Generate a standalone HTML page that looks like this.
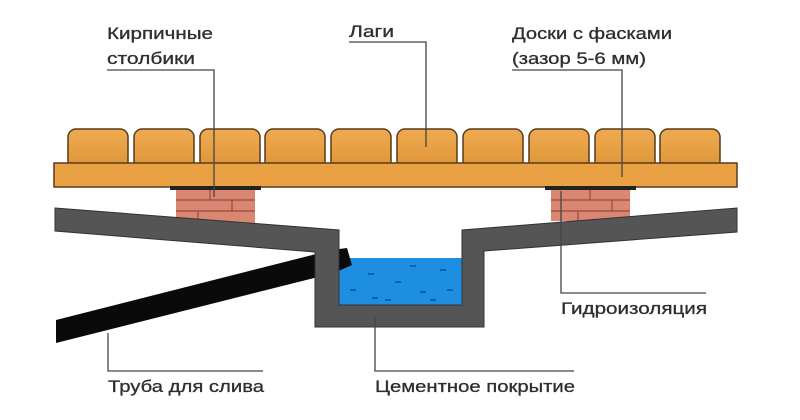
<!DOCTYPE html>
<html><head><meta charset="utf-8"><style>
html,body{margin:0;padding:0;background:#fff;}
svg{display:block;}
text{font-family:"Liberation Sans",sans-serif;font-size:17px;fill:#2e2e2e;stroke:#2e2e2e;stroke-width:0.3;}
</style></head><body>
<svg width="800" height="420" viewBox="0 0 800 420" xmlns="http://www.w3.org/2000/svg">
<defs>
<linearGradient id="w" x1="0" y1="0" x2="0" y2="1"><stop offset="0" stop-color="#efab52"/><stop offset="1" stop-color="#de9436"/></linearGradient>
</defs>
<g fill="url(#w)" stroke="#5a3a1a" stroke-width="1.5">
<rect x="68" y="129" width="60" height="40" rx="8"/>
<rect x="134" y="129" width="60" height="40" rx="8"/>
<rect x="200" y="129" width="60" height="40" rx="8"/>
<rect x="265" y="129" width="60" height="40" rx="8"/>
<rect x="331" y="129" width="60" height="40" rx="8"/>
<rect x="397" y="129" width="60" height="40" rx="8"/>
<rect x="463" y="129" width="60" height="40" rx="8"/>
<rect x="529" y="129" width="60" height="40" rx="8"/>
<rect x="595" y="129" width="60" height="40" rx="8"/>
<rect x="660" y="129" width="60" height="40" rx="8"/>
</g>
<rect x="54" y="163" width="683" height="24" fill="#e9a144" stroke="#5a3a1a" stroke-width="1.5"/>
<g>
<rect x="176" y="189" width="79" height="34" fill="#d98672"/>
<rect x="170" y="186" width="91" height="4" fill="#222"/>
<path d="M176 200H255M176 211H255M210 190V200M232 200V211M198 211V223" stroke="#9a4a3a" stroke-width="1.2" fill="none"/>
<rect x="551" y="189" width="79" height="32" fill="#d98672"/>
<rect x="545" y="186" width="91" height="4" fill="#222"/>
<path d="M551 200H630M551 211H630M590 190V200M612 200V211M578 211V221" stroke="#9a4a3a" stroke-width="1.2" fill="none"/>
</g>
<rect x="338" y="258" width="125" height="48" fill="#1e8fe0"/>
<g stroke="#0d5fa8" stroke-width="2">
<path d="M350 290h6M372 298h6M395 282h6M420 292h6M440 270h6M368 274h6M410 266h6M447 290h6M385 300h6M430 300h6"/>
</g>
<polygon points="56,320 332,250 347,248 352,265 334,273 56,343" fill="#0a0a0a"/>
<polygon points="55,208 339,230 339,305 462,305 462,230 737,208 737,232 484,251 484,327 315,327 315,252 55,231" fill="#555" stroke="#333" stroke-width="1"/>
<g stroke="#444" stroke-width="1.3" fill="none">
<path d="M107 70H214V197"/>
<path d="M349 42H426V147"/>
<path d="M512 70H622V177"/>
<path d="M561 191V293H706"/>
<path d="M108 333V371H263"/>
<path d="M375 316V371H574"/>
</g>
<text x="107" y="39" textLength="106" lengthAdjust="spacingAndGlyphs">Кирпичные</text>
<text x="107" y="64" textLength="88" lengthAdjust="spacingAndGlyphs">столбики</text>
<text x="349" y="37" textLength="45" lengthAdjust="spacingAndGlyphs">Лаги</text>
<text x="512" y="39" textLength="160" lengthAdjust="spacingAndGlyphs">Доски с фасками</text>
<text x="512" y="64" textLength="134" lengthAdjust="spacingAndGlyphs">(зазор 5-6 мм)</text>
<text x="561" y="314" textLength="146" lengthAdjust="spacingAndGlyphs">Гидроизоляция</text>
<text x="108" y="392" textLength="156" lengthAdjust="spacingAndGlyphs">Труба для слива</text>
<text x="375" y="392" textLength="200" lengthAdjust="spacingAndGlyphs">Цементное покрытие</text>
</svg>
</body></html>
